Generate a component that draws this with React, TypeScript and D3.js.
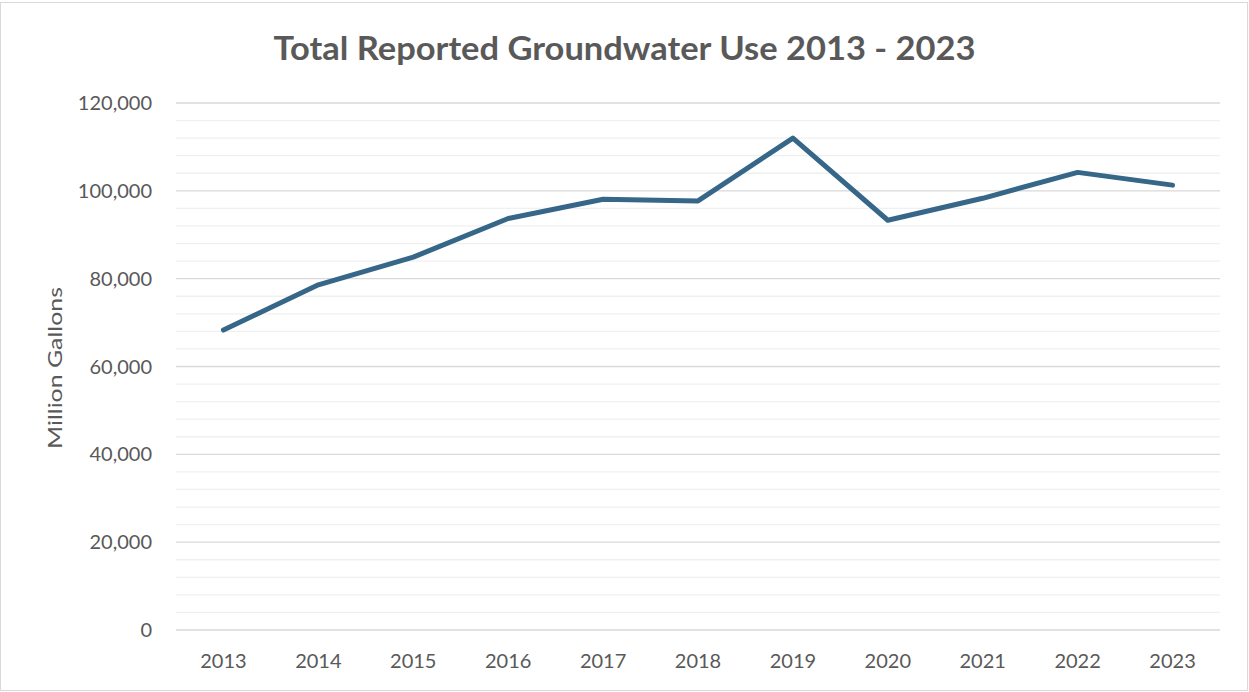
import React from "react";
import * as d3 from "d3";

const years = ["2013", "2014", "2015", "2016", "2017", "2018", "2019", "2020", "2021", "2022", "2023"];
const groundwaterUse = [68300, 78600, 84900, 93700, 98100, 97700, 112000, 93300, 98300, 104200, 101300];
const majorTicks = [0, 20000, 40000, 60000, 80000, 100000, 120000];
const minorTicks = d3.range(0, 120001, 4000);

const W = 1249;
const H = 692;
const margin = { left: 176, right: 29, top: 103, bottom: 62 };
const FONT = "Lato, 'Open Sans', sans-serif";
const TEXT = "#595959";

export default function App() {
  const x = d3.scaleBand<string>().domain(years).range([margin.left, W - margin.right]);
  const y = d3.scaleLinear().domain([0, 120000]).range([H - margin.bottom, margin.top]);
  const line = d3
    .line<number>()
    .x((_, i) => (x(years[i]) as number) + x.bandwidth() / 2)
    .y((d) => y(d));
  const fmt = d3.format(",");

  return (
    <svg width={W} height={H} style={{ position: "fixed", left: 0, top: 0, background: "#fff" }}>
      <rect x={0.5} y={2.5} width={W - 2} height={H - 4} fill="#fff" stroke="#d9d9d9" strokeWidth={1} />
      <text
        x={W / 2}
        y={60}
        textAnchor="middle"
        fontFamily={FONT}
        fontWeight="bold"
        fontSize={32}
        fill={TEXT}
        textLength={702}
        lengthAdjust="spacingAndGlyphs"
      >
        Total Reported Groundwater Use 2013 - 2023
      </text>
      {minorTicks
        .filter((t) => t % 20000 !== 0)
        .map((t) => (
          <line key={"m" + t} x1={margin.left} x2={W - margin.right} y1={y(t)} y2={y(t)} stroke="#f0f0f0" strokeWidth={1.3} />
        ))}
      {majorTicks.map((t) => (
        <line key={"M" + t} x1={margin.left} x2={W - margin.right} y1={y(t)} y2={y(t)} stroke="#d9d9d9" strokeWidth={1.3} />
      ))}
      {majorTicks.map((t) => (
        <text
          key={"l" + t}
          x={152}
          y={y(t)}
          dy="0.35em"
          textAnchor="end"
          fontFamily={FONT}
          fontSize={20}
          fill={TEXT}
        >
          {fmt(t)}
        </text>
      ))}
      {years.map((yr) => (
        <text
          key={yr}
          x={(x(yr) as number) + x.bandwidth() / 2}
          y={661}
          dy="0.35em"
          textAnchor="middle"
          fontFamily={FONT}
          fontSize={20}
          fill={TEXT}
        >
          {yr}
        </text>
      ))}
      <text
        transform={`translate(55,368) rotate(-90)`}
        dy="0.35em"
        textAnchor="middle"
        fontFamily={FONT}
        fontSize={20}
        fill={TEXT}
        textLength={162}
        lengthAdjust="spacingAndGlyphs"
      >
        Million Gallons
      </text>
      <path
        d={line(groundwaterUse) || ""}
        fill="none"
        stroke="#366688"
        strokeWidth={5}
        strokeLinejoin="round"
        strokeLinecap="round"
      />
    </svg>
  );
}
